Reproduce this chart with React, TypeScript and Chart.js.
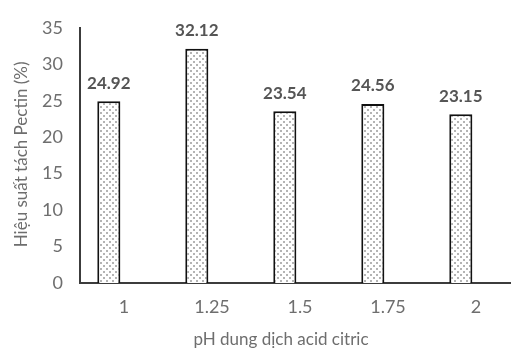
import React, { useEffect, useRef } from "react";
import { Chart, registerables } from "chart.js";

Chart.register(...registerables);

// pH of the citric acid solution
const phLevels: string[] = ["1", "1.25", "1.5", "1.75", "2"];
// pectin extraction yield (%)
const pectinYield: number[] = [24.92, 32.12, 23.54, 24.56, 23.15];
const yTicks: number[] = [0, 5, 10, 15, 20, 25, 30, 35];

const xTitle = "pH dung dịch acid citric";
const yTitle = "Hiệu suất tách Pectin (%)";

const FONT = "Lato, 'Open Sans', sans-serif";
const TEXT_GREY = "#6e6e6e";

// small dotted fill for the bars
function makeDotPattern(ctx: CanvasRenderingContext2D): CanvasPattern | string {
  const tile = document.createElement("canvas");
  tile.width = 6;
  tile.height = 6;
  const t = tile.getContext("2d");
  if (!t) return "#ffffff";
  t.fillStyle = "#ffffff";
  t.fillRect(0, 0, 6, 6);
  t.fillStyle = "#b4b4b4";
  t.fillRect(1, 1, 2, 2);
  t.fillRect(4, 4, 2, 2);
  return ctx.createPattern(tile, "repeat") || "#ffffff";
}

const annotations = {
  id: "annotations",
  afterDatasetsDraw(chart: any) {
    const { ctx, chartArea } = chart;
    const meta = chart.getDatasetMeta(0);
    ctx.save();
    // value labels above the bars
    ctx.font = `bold 17px ${FONT}`;
    ctx.fillStyle = "#555555";
    ctx.textAlign = "center";
    ctx.textBaseline = "middle";
    meta.data.forEach((bar: any, i: number) => {
      ctx.fillText(pectinYield[i].toFixed(2), bar.x, bar.y - 18);
    });
    // axis titles
    ctx.font = `17px ${FONT}`;
    ctx.fillStyle = TEXT_GREY;
    ctx.fillText(xTitle, chartArea.left + 201, chartArea.bottom + 57);
    ctx.translate(22, (chartArea.top + chartArea.bottom) / 2 - 1);
    ctx.rotate(-Math.PI / 2);
    ctx.fillText(yTitle, 0, 0);
    ctx.restore();
  },
};

export default function App() {
  const canvasRef = useRef<HTMLCanvasElement | null>(null);

  useEffect(() => {
    const canvas = canvasRef.current;
    if (!canvas) return;
    const ctx = canvas.getContext("2d");
    if (!ctx) return;
    const pattern = makeDotPattern(ctx);

    const chart = new Chart(ctx, {
      type: "bar",
      data: {
        labels: phLevels,
        datasets: [
          {
            label: "Hiệu suất",
            data: pectinYield,
            backgroundColor: pattern as any,
            borderColor: "#111111",
            borderWidth: 2,
            borderSkipped: "bottom",
            barPercentage: 0.76,
            categoryPercentage: 0.69,
          },
          {
            // second series slot, no values
            label: "",
            data: [],
            barPercentage: 0.76,
            categoryPercentage: 0.69,
          },
        ],
      },
      options: {
        responsive: false,
        animation: false,
        layout: { padding: { top: 24, right: 10, bottom: 0, left: 0 } },
        plugins: {
          legend: { display: false },
          tooltip: { enabled: false },
          title: { display: false },
        },
        scales: {
          x: {
            grid: { display: false, drawTicks: false },
            border: { display: true, color: "#3c3c3c", width: 2 },
            ticks: {
              color: TEXT_GREY,
              font: { family: FONT, size: 18 },
              padding: 13,
              maxRotation: 0,
            },
            afterFit: (axis: any) => {
              axis.height = 69;
            },
          },
          y: {
            min: 0,
            max: 35,
            grid: { display: false, drawTicks: false },
            border: { display: true, color: "#3c3c3c", width: 2 },
            afterBuildTicks: (axis: any) => {
              axis.ticks = yTicks.map((v) => ({ value: v }));
            },
            ticks: {
              color: TEXT_GREY,
              font: { family: FONT, size: 18 },
              padding: 17,
            },
            afterFit: (axis: any) => {
              axis.width = 80;
            },
          },
        },
      },
      plugins: [annotations],
    });

    return () => chart.destroy();
  }, []);

  return (
    <div
      style={{
        position: "fixed",
        left: 0,
        top: 0,
        width: 511,
        height: 352,
        overflow: "hidden",
        background: "#ffffff",
      }}
    >
      <canvas ref={canvasRef} width={530} height={352} style={{ display: "block" }} />
    </div>
  );
}
